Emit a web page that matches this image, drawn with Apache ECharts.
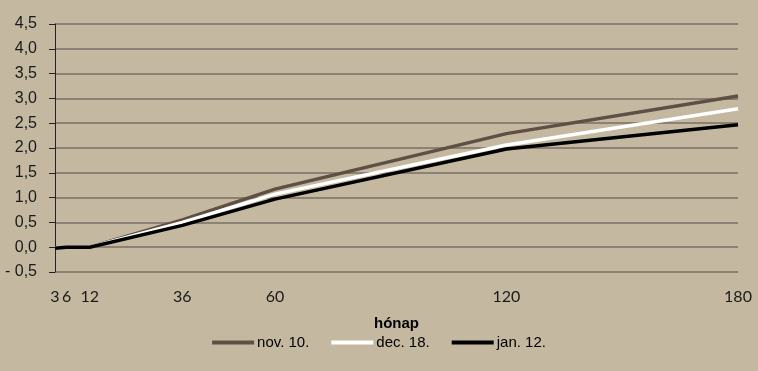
<!DOCTYPE html>
<html><head><meta charset="utf-8">
<script src="https://cdn.jsdelivr.net/npm/echarts@6/dist/echarts.min.js"></script>
<style>html,body{margin:0;padding:0;background:#c4b8a1;}#c{width:758px;height:371px;}</style>
</head><body><div id="c"></div>
<script>
const months = [3, 6, 12, 36, 60, 120, 180];
const xTicks = [3, 6, 12, 36, 60, 120, 180];
const seriesNames = ['nov. 10.', 'dec. 18.', 'jan. 12.'];
const nov10 = [-0.02, 0.0, 0.0, 0.55, 1.17, 2.29, 3.05];
const dec18 = [-0.02, 0.0, 0.0, 0.50, 1.07, 2.06, 2.79];
const jan12 = [-0.02, 0.0, 0.0, 0.44, 0.97, 1.98, 2.47];
const colors = ['#5e5044', '#ffffff', '#000000'];

const chart = echarts.init(document.getElementById('c'));
const fmt = v => (v < 0 ? '- ' : '') + Math.abs(v).toFixed(1).replace('.', ',');
const mk = (name, vals, i) => ({
  name, type: 'line', data: months.map((m, k) => [m, vals[k]]),
  symbol: 'none', lineStyle: { width: 3.5, color: colors[i] }, itemStyle: { color: colors[i] },
  z: 3 + i
});
chart.setOption({
  backgroundColor: '#c4b8a1',
  animation: false,
  grid: { left: 55, right: 20, top: 24, bottom: 99, outerBoundsMode: 'none', containLabel: false },
  xAxis: {
    type: 'value', min: 3, max: 180,
    name: 'hónap', nameLocation: 'middle', nameGap: 44,
    nameTextStyle: { fontFamily: 'Liberation Sans', fontWeight: 'bold', fontSize: 15, color: '#000' },
    axisLine: { show: false }, axisTick: { show: false }, splitLine: { show: false },
    axisLabel: { customValues: xTicks, fontFamily: 'Lato', fontSize: 16, color: '#1a1a1a', margin: 17 }
  },
  yAxis: {
    type: 'value', min: -0.5, max: 4.5, interval: 0.5,
    axisLine: { show: true, lineStyle: { color: '#222', width: 1 } },
    axisTick: { show: true, length: 6, lineStyle: { color: '#222' } },
    splitLine: { lineStyle: { color: '#8b8274', width: 2 } },
    axisLabel: { formatter: fmt, fontFamily: 'Liberation Sans', fontSize: 16, color: '#1a1a1a', margin: 18, align: 'right', hideOverlap: false, showMinLabel: true, showMaxLabel: true }
  },
  legend: {
    bottom: 16, left: 'center', itemWidth: 42, itemHeight: 4, itemGap: 22,
    icon: 'rect',
    textStyle: { fontFamily: 'Liberation Sans', fontSize: 15, color: '#000', padding: [0,0,0,-2] },
    data: seriesNames
  },
  series: [mk(seriesNames[0], nov10, 0), mk(seriesNames[1], dec18, 1), mk(seriesNames[2], jan12, 2)]
});
</script></body></html>
